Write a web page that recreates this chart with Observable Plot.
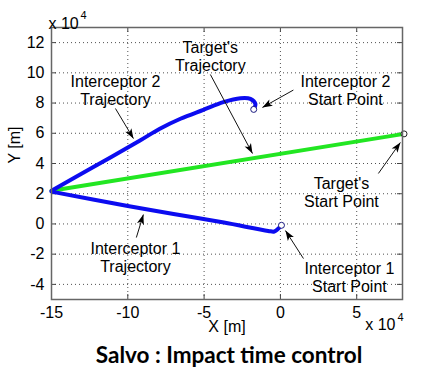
<!DOCTYPE html>
<html><head><meta charset="utf-8">
<script src="https://cdn.jsdelivr.net/npm/d3@7"></script>
<script src="https://cdn.jsdelivr.net/npm/@observablehq/plot@0.6"></script>
<style>
body{margin:0;background:#fff;}
#title{width:422px;padding-left:36px;box-sizing:border-box;text-align:center;font:bold 22.5px Lato, "Open Sans", sans-serif;line-height:30px;height:40px;color:#000;}
</style></head><body><div id="chart"></div><div id="title">Salvo : Impact time control</div>
<script>
// ---- data (units of 10^4 m) ----
const xTicks = [-15, -10, -5, 0, 5];
const yTicks = [-4, -2, 0, 2, 4, 6, 8, 10, 12];

const targetX = [-15, 8.1];
const targetY = [2.2, 5.96];

const int2X = [-15, -12.4, -9.2, -7.9, -6.55, -5.05, -3.74, -2.62, -1.97, -1.64, -1.75];
const int2Y = [2.2, 3.68, 5.52, 6.3, 6.96, 7.55, 8.06, 8.32, 8.28, 7.95, 7.58];

const int1X = [-15, -10, -7, -3.7, -0.8, -0.4, -0.13, 0.07];
const int1Y = [2.14, 1.19, 0.66, 0.09, -0.46, -0.5, -0.3, -0.09];

const startNames = ["Interceptor 2", "Interceptor 1", "Target"];
const startX = [-1.75, 0.07, 8.1];
const startY = [7.58, -0.09, 5.96];

const labelText = ["Target's\nTrajectory", "Interceptor 2\nTrajectory", "Interceptor 2\nStart Point",
                   "Target's\nStart Point", "Interceptor 1\nTrajectory", "Interceptor 1\nStart Point"];
const labelX = [-4.59, -10.81, 4.26, 4.0, -9.5, 4.52];
const labelY = [11.09, 8.83, 8.83, 2.08, -2.19, -3.52];

const arrowX1 = [-4.59, -10.81, 0.85, 6.42, -9.44, 1.51];
const arrowY1 = [9.89, 7.64, 8.86, 3.34, -0.9, -2.29];
const arrowX2 = [-1.83, -9.63, -1.18, 7.86, -8.98, 0.33];
const arrowY2 = [4.66, 5.65, 7.71, 5.39, 0.62, -0.44];

// ---- layout ----
const W = 422, H = 340, mT = 27, mB = 41, mL = 51, mR = 20;
const pw = W - mL - mR, ph = H - mT - mB;
const xDomain = [-15, 8], yDomain = [-5, 13];
const kx = pw / (xDomain[1] - xDomain[0]), ky = ph / (yDomain[1] - yDomain[0]);

// ---- tables built from the arrays ----
const pts = (xs, ys) => xs.map((x, i) => ({x, y: ys[i]}));
const target = pts(targetX, targetY);
const int2 = pts(int2X, int2Y);
const int1 = pts(int1X, int1Y);
const starts = startNames.map((n, i) => ({n, x: startX[i], y: startY[i]}));
const labels = labelText.map((t, i) => ({t, x: labelX[i], y: labelY[i]}));
const arrows = arrowX1.map((x1, i) => {
  const x2 = arrowX2[i], y1 = arrowY1[i], y2 = arrowY2[i];
  const a = Math.atan2((x2 - x1) * kx, (y2 - y1) * ky) * 180 / Math.PI;
  return {x1, y1, x2, y2, a};
});

const arrowHead = {
  draw(ctx) {
    ctx.moveTo(0, 0);
    ctx.lineTo(-3.6, 10);
    ctx.lineTo(0, 7.5);
    ctx.lineTo(3.6, 10);
    ctx.closePath();
  }
};

const blue = "#0c0cf0", green = "#22e622";
const fmt = d => String(d);

const chart = Plot.plot({
  width: W, height: H,
  marginTop: mT, marginBottom: mB, marginLeft: mL, marginRight: mR,
  style: {fontFamily: "'Liberation Sans', Arial, sans-serif", fontSize: "16px", background: "#fff", color: "#000"},
  x: {domain: xDomain},
  y: {domain: yDomain},
  marks: [
    Plot.gridX(xTicks, {stroke: "#333", strokeOpacity: 0.85, strokeDasharray: "1,3"}),
    Plot.gridY(yTicks, {stroke: "#333", strokeOpacity: 0.85, strokeDasharray: "1,3"}),
    Plot.tickX(xTicks, {x: d => d, insetTop: ph - 5, stroke: "#444"}),
    Plot.tickX(xTicks, {x: d => d, insetBottom: ph - 5, stroke: "#444"}),
    Plot.tickY(yTicks, {y: d => d, insetRight: pw - 5, stroke: "#444"}),
    Plot.tickY(yTicks, {y: d => d, insetLeft: pw - 5, stroke: "#444"}),
    Plot.line(target, {x: "x", y: "y", stroke: green, strokeWidth: 4}),
    Plot.line(int2, {x: "x", y: "y", stroke: blue, strokeWidth: 4, curve: "catmull-rom"}),
    Plot.line(int1, {x: "x", y: "y", stroke: blue, strokeWidth: 4, curve: "catmull-rom"}),
    Plot.dot(starts, {x: "x", y: "y", r: 3, fill: "white", stroke: d => d.n === "Target" ? "#222" : "#1a1a80", strokeWidth: 1}),
    Plot.link(arrows, {x1: "x1", y1: "y1", x2: "x2", y2: "y2", stroke: "#111", strokeWidth: 1}),
    Plot.dot(arrows, {x: "x2", y: "y2", symbol: arrowHead, rotate: "a", fill: "#000", stroke: "none"}),
    Plot.text(labels, {x: "x", y: "y", text: "t", fontSize: 16, lineHeight: 1.12, fill: "#000"}),
    Plot.frame({stroke: "#666", strokeWidth: 1.5}),
    Plot.axisX(xTicks, {anchor: "bottom", tickSize: 0, tickPadding: 7, tickFormat: fmt, fontSize: 16, label: null}),
    Plot.axisY(yTicks, {anchor: "left", tickSize: 0, tickPadding: 7, tickFormat: fmt, fontSize: 16, label: null}),
    Plot.text(["X [m]"], {frameAnchor: "bottom", dy: 32, fontSize: 16}),
    Plot.text(["Y [m]"], {frameAnchor: "left", dx: -37, rotate: -90, fontSize: 16}),
    Plot.text(["x 10"], {frameAnchor: "top-left", textAnchor: "start", dx: -3, dy: -10, fontSize: 16}),
    Plot.text(["4"], {frameAnchor: "top-left", textAnchor: "start", dx: 29, dy: -16, fontSize: 11}),
    Plot.text(["x 10"], {frameAnchor: "bottom-right", textAnchor: "end", dx: -7, dy: 30, fontSize: 16}),
    Plot.text(["4"], {frameAnchor: "bottom-right", textAnchor: "start", dx: -5, dy: 21, fontSize: 11})
  ]
});
document.getElementById("chart").appendChild(chart);
</script>
</body></html>
